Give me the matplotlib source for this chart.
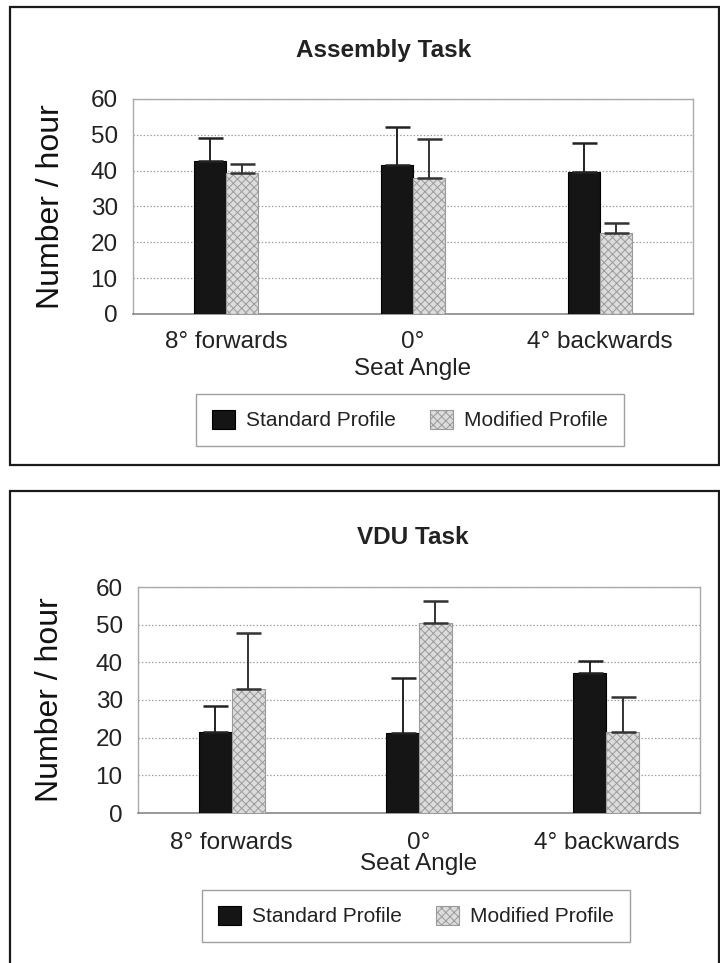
import matplotlib.pyplot as plt
import numpy as np
from matplotlib.patches import Rectangle

plt.rcParams["font.family"] = ["Liberation Sans", "DejaVu Sans"]
plt.rcParams["hatch.linewidth"] = 0.7

angles = ["8° forwards", "0°", "4° backwards"]
y_ticks = [0, 10, 20, 30, 40, 50, 60]

# Assembly task: means and upper error (number / hour)
assembly_standard = [42.8, 41.7, 39.7]
assembly_standard_err = [6.4, 10.5, 8.1]
assembly_modified = [39.4, 38.0, 22.5]
assembly_modified_err = [2.5, 10.9, 2.8]

# VDU task
vdu_standard = [21.5, 21.2, 37.1]
vdu_standard_err = [6.9, 14.6, 3.2]
vdu_modified = [32.9, 50.4, 21.5]
vdu_modified_err = [14.8, 5.8, 9.3]

W, H = 720, 963
fig = plt.figure(figsize=(W / 100, H / 100), dpi=100)
fig.patch.set_facecolor("white")


def px_box(left, top, right, bottom):
    # pixel box -> figure fraction rect
    return [left / W, 1 - bottom / H, (right - left) / W, (bottom - top) / H]


def draw_panel(box, title, title_px, std, std_err, mod, mod_err,
               bar_w, tick_pad, xlabel_y, legend_px, ylabel_x):
    ax = fig.add_axes(px_box(*box))
    x = np.arange(len(angles))

    b1 = ax.bar(x - bar_w / 2, std, bar_w, color="#151515",
                edgecolor="#000000", linewidth=0.8, label="Standard Profile",
                zorder=3)
    b2 = ax.bar(x + bar_w / 2, mod, bar_w, color="#dcdcdc",
                edgecolor="#9a9a9a", hatch="xxxx", linewidth=0.8,
                label="Modified Profile", zorder=3)

    # one-sided error bars (upper only)
    ax.errorbar(x - bar_w / 2, std, yerr=[np.zeros(3), std_err], fmt="none",
                ecolor="#222222", elinewidth=1.4, capsize=9, capthick=1.8,
                zorder=4)
    ax.errorbar(x + bar_w / 2, mod, yerr=[np.zeros(3), mod_err], fmt="none",
                ecolor="#333333", elinewidth=1.4, capsize=9, capthick=1.8,
                zorder=4)

    ax.set_xlim(-0.5, 2.5)
    ax.set_ylim(0, 60)
    ax.set_yticks(y_ticks)
    ax.set_xticks(x)
    ax.set_xticklabels(angles)
    ax.tick_params(axis="both", length=0, labelsize=17.5, colors="#222222")
    ax.tick_params(axis="y", pad=11)
    ax.tick_params(axis="x", pad=tick_pad)
    ax.yaxis.grid(True, color="#a0a0a0", linestyle=(0, (1.2, 1.5)),
                  linewidth=0.9, zorder=0)
    for side in ["top", "right", "left"]:
        ax.spines[side].set_color("#aaaaaa")
        ax.spines[side].set_linewidth(1.0)
    ax.spines["bottom"].set_color("#888888")
    ax.spines["bottom"].set_linewidth(1.2)

    ax.text(0.5, xlabel_y, "Seat Angle", transform=ax.transAxes,
            ha="center", va="center", fontsize=17.5, color="#222222")

    fig.text(title_px[0] / W, 1 - title_px[1] / H, title, ha="center",
             va="center", fontsize=17.5, fontweight="bold", color="#222222")

    cy = 1 - (box[1] + box[3]) / 2 / H
    fig.text(ylabel_x / W, cy, "Number / hour", rotation=90, ha="center",
             va="center", fontsize=23, color="#111111")

    leg = fig.legend(handles=[b1, b2], loc="center", ncol=2,
                     bbox_to_anchor=(legend_px[0] / W, 1 - legend_px[1] / H),
                     fontsize=15, frameon=True, fancybox=False,
                     handlelength=1.1, handleheight=1.05, handletextpad=0.55,
                     columnspacing=1.6, borderpad=0.75, borderaxespad=0)
    leg.get_frame().set_edgecolor("#888888")
    leg.get_frame().set_linewidth(1.0)
    for t in leg.get_texts():
        t.set_color("#222222")
    return ax


draw_panel((133, 99, 693, 314), "Assembly Task", (384, 50),
           assembly_standard, assembly_standard_err,
           assembly_modified, assembly_modified_err,
           bar_w=0.171, tick_pad=12, xlabel_y=-0.255,
           legend_px=(410, 420), ylabel_x=51)

draw_panel((138, 587, 700, 813), "VDU Task", (413, 537),
           vdu_standard, vdu_standard_err,
           vdu_modified, vdu_modified_err,
           bar_w=0.176, tick_pad=14, xlabel_y=-0.225,
           legend_px=(416, 916), ylabel_x=50)

# panel frames
for left, top, right, bottom in [(10, 7, 719, 465), (10, 491, 719, 975)]:
    fig.add_artist(Rectangle((left / W, 1 - bottom / H),
                             (right - left) / W, (bottom - top) / H,
                             transform=fig.transFigure, fill=False,
                             edgecolor="#1a1a1a", linewidth=1.6,
                             clip_on=False))

fig.savefig("out.png", dpi=100, facecolor="white")
